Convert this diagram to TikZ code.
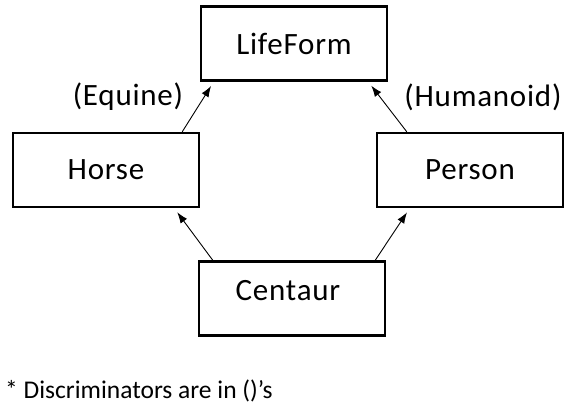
\documentclass[tikz,border=0pt]{standalone}
\usepackage{fontspec}
\setmainfont{Carlito}[LetterSpace=2.5]
\usetikzlibrary{arrows.meta}

\begin{document}
\begin{tikzpicture}[x=1pt, y=-1pt,
        classbox/.style={draw, line width=2.5pt, minimum width=186pt, minimum height=74pt, inner sep=0pt, font=\fontsize{31}{36}\selectfont},
        discr/.style={inner sep=0pt, font=\fontsize{31}{36}\selectfont},
        isa/.style={line width=0.9pt, -{Latex[length=11pt, width=8pt]}, shorten >=5pt}]
        \useasboundingbox (0,0) rectangle (570,415);

        \node[classbox] (lifeform) at (294,43.5) {LifeForm};
        \node[classbox] (horse) at (106,170) {Horse};
        \node[classbox] (person) at (470,170) {Person};
        \node[classbox] (centaur) at (292,298.5) {};
        \node[discr] (centaurtext) at (288,291) {Centaur};

        \node[discr] (equine) at (128,97) {(Equine)};
        \node[discr] (humanoid) at (483,97) {(Humanoid)};

        \draw[isa] ([xshift=-18pt]horse.north east) -- ([xshift=14pt]lifeform.south west);
        \draw[isa] ([xshift=31pt]person.north west) -- ([xshift=-20pt]lifeform.south east);
        \draw[isa] ([xshift=15pt]centaur.north west) -- ([xshift=-26pt]horse.south east);
        \draw[isa] ([xshift=-11pt]centaur.north east) -- ([xshift=34pt]person.south west);

        \node[anchor=west, inner sep=0pt, font=\fontsize{25.5}{30}\selectfont\addfontfeatures{LetterSpace=0}] (note) at (5,391) {* Discriminators are in ()'s};
\end{tikzpicture}
\end{document}
